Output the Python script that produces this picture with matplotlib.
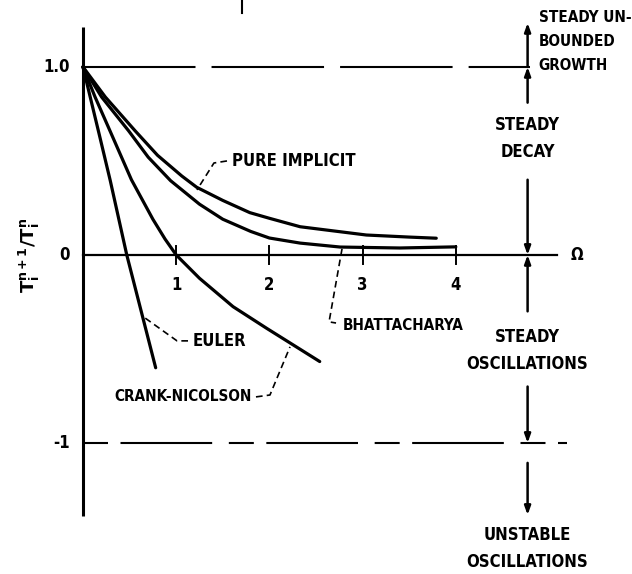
import matplotlib
matplotlib.use('Agg')
import matplotlib.pyplot as plt
from matplotlib import font_manager as fm

# curves (omega, T^{n+1}/T^n)
euler_x = [0.0, 0.175, 0.293, 0.47, 0.78]
euler_y = [1.0, 0.64, 0.395, 0.0, -0.60]

cn_x = [0.0, 0.13, 0.29, 0.52, 0.75, 0.88, 1.0, 1.25, 1.61, 1.97, 2.26, 2.54]
cn_y = [1.0, 0.84, 0.66, 0.40, 0.19, 0.085, 0.0, -0.124, -0.275, -0.39, -0.48, -0.567]

bh_x = [0.0, 0.2, 0.49, 0.7, 0.94, 1.25, 1.5, 1.8, 2.0, 2.33, 2.76, 3.4, 4.0]
bh_y = [1.0, 0.84, 0.66, 0.52, 0.395, 0.27, 0.19, 0.125, 0.09, 0.063, 0.042, 0.037, 0.043]

pi_x = [0.0, 0.24, 0.4, 0.56, 0.8, 1.06, 1.22, 1.5, 1.79, 2.0, 2.33, 3.04, 3.5, 3.79]
pi_y = [1.0, 0.84, 0.75, 0.66, 0.53, 0.42, 0.36, 0.29, 0.225, 0.195, 0.15, 0.106, 0.095, 0.089]

xticks = [1, 2, 3, 4]
yticks = [1.0, 0, -1]
ytick_labels = ['1.0', '0', '-1']

# the original lettering is a narrow bold face; use one if there is any
narrow = [f for f in fm.fontManager.ttflist
          if ('Narrow' in f.name or 'Condensed' in f.name or 'condensed' in str(f.stretch))
          and f.weight in ('bold', 700) and f.style == 'normal']
if narrow:
    FONT = dict(fontproperties=fm.FontProperties(fname=narrow[0].fname, size=12))
    SMALL = dict(fontproperties=fm.FontProperties(fname=narrow[0].fname, size=11))
else:
    FONT = dict(family=['Liberation Sans', 'DejaVu Sans'], weight='bold', size=12.5)
    SMALL = dict(family=['Liberation Sans', 'DejaVu Sans'], weight='bold', size=11.3)

fig = plt.figure(figsize=(6.32, 5.74), dpi=100)
ax = fig.add_axes([0, 0, 1, 1])
ax.set_xlim(-0.89, 5.89)
ax.set_ylim(-1.697, 1.356)
ax.axis('off')

k = 'black'
# axes
ax.plot([0, 0], [1.21, -1.39], color=k, lw=2.2, solid_capstyle='butt')
ax.plot([0, 5.09], [0, 0], color=k, lw=1.6)
for t in xticks:
    ax.plot([t, t], [0.05, -0.05], color=k, lw=1.4)
    ax.text(t, -0.16, str(t), ha='center', va='center', **FONT)
for t, s in zip(yticks, ytick_labels):
    ax.text(-0.14, t, s, ha='right', va='center', **FONT)
ax.text(5.3, 0, '\u03a9', ha='center', va='center', **FONT)
ax.text(-0.57, 0.0, r'$\mathbf{T_i^{n+1}/T_i^n}$', rotation=90, ha='center',
        va='center', fontsize=13)

# 1.0 and -1 reference lines
ax.plot([0, 4.8], [1, 1], color=k, lw=1.5, dashes=(54, 7.7))
ax.plot([0, 5.19], [-1, -1], color=k, lw=1.5, dashes=(12, 6, 44, 8))

# small stray mark at top
ax.plot([1.706, 1.706], [1.356, 1.287], color=k, lw=1.5)

# curves
for xs, ys in [(euler_x, euler_y), (cn_x, cn_y), (bh_x, bh_y), (pi_x, pi_y)]:
    ax.plot(xs, ys, color=k, lw=2.3, solid_capstyle='round', solid_joinstyle='round')

# leaders and labels
lead = dict(color=k, lw=1.2, dashes=(4, 2.5))
ax.plot([1.545, 1.405, 1.223], [0.50, 0.489, 0.346], **lead)
ax.text(1.60, 0.50, 'PURE IMPLICIT', ha='left', va='center', **FONT)
ax.plot([1.127, 1.009, 0.665], [-0.457, -0.457, -0.335], **lead)
ax.text(1.18, -0.46, 'EULER', ha='left', va='center', **FONT)
ax.plot([1.856, 2.006, 2.221], [-0.755, -0.745, -0.489], **lead)
ax.text(1.81, -0.755, 'CRANK-NICOLSON', ha='right', va='center', **SMALL)
ax.plot([2.779, 2.64, 2.715], [0.032, -0.356, -0.362], **lead)
ax.text(2.79, -0.375, 'BHATTACHARYA', ha='left', va='center', **SMALL)

# stability region arrows
xa = 4.77
arr = dict(arrowstyle='-|>,head_length=0.5,head_width=0.18', color=k, lw=1.8,
           shrinkA=0, shrinkB=0)
for y0, y1 in [(1.0, 1.234), (0.81, 1.0), (0.40, 0.0), (-0.30, 0.0),
               (-0.70, -1.0), (-1.106, -1.383)]:
    ax.annotate('', xy=(xa, y1), xytext=(xa, y0), arrowprops=arr)

ax.text(4.89, 1.135, 'STEADY UN-\nBOUNDED\nGROWTH', ha='left', va='center',
        linespacing=1.75, **SMALL)
ax.text(xa, 0.62, 'STEADY\nDECAY', ha='center', va='center', linespacing=1.65, **FONT)
ax.text(xa, -0.51, 'STEADY\nOSCILLATIONS', ha='center', va='center',
        linespacing=1.65, **FONT)
ax.text(xa, -1.56, 'UNSTABLE\nOSCILLATIONS', ha='center', va='center',
        linespacing=1.65, **FONT)

fig.savefig('out.png', dpi=100)
